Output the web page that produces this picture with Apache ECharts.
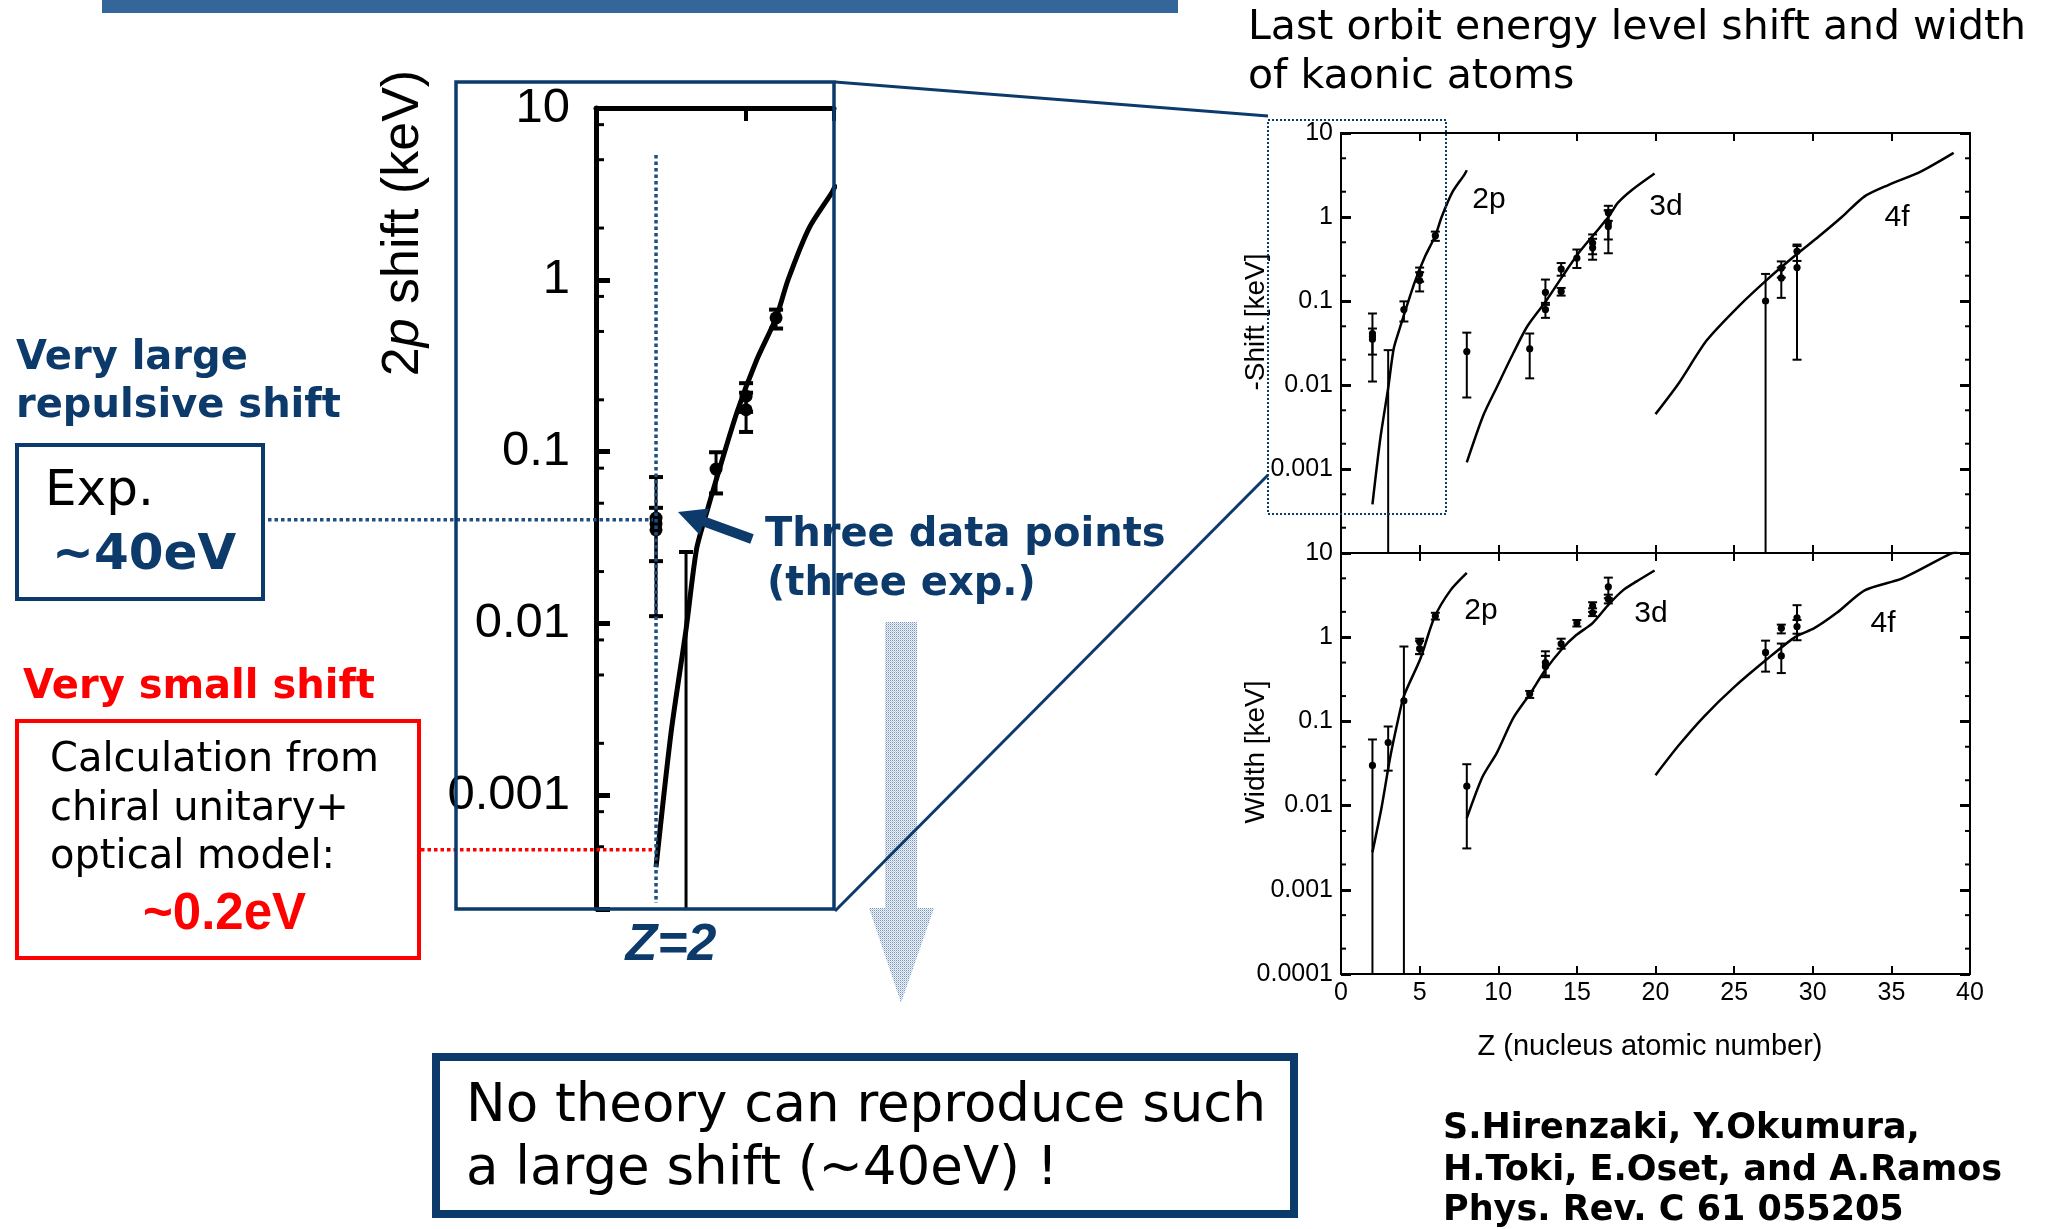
<!DOCTYPE html>
<html><head><meta charset="utf-8">
<script src="https://cdn.jsdelivr.net/npm/echarts@6/dist/echarts.min.js"></script>
<style>html,body{margin:0;padding:0;background:#fff}#c{width:2046px;height:1229px}</style>
</head><body><div id="c"></div>
<script>
// ================= DATA =================
// theory curves: [Z, keV]
const shiftCurve2p = [[2.0,0.00038],[2.5,0.0023],[3.0,0.0092],[3.35,0.027],[3.7,0.045],[4.0,0.068],[4.7,0.17],[5.35,0.34],[6.0,0.6],[6.4,1.0],[7.1,2.0],[7.85,3.2],[8.0,3.6]];
const shiftCurve3d = [[8,0.0012],[9.04,0.0043],[9.93,0.0096],[10.96,0.024],[11.85,0.05],[13.04,0.1],[14.07,0.195],[15.1,0.37],[16.15,0.64],[17.04,1.02],[17.6,1.47],[18.5,2.1],[19.94,3.3]];
const shiftCurve4f = [[20,0.0045],[21.48,0.0105],[23.26,0.034],[25.3,0.087],[27.1,0.18],[28.9,0.35],[30.4,0.59],[31.85,1.0],[33.3,1.76],[34.8,2.4],[36.9,3.5],[38.96,5.8]];
const widthCurve2p = [[2,0.0028],[2.58,0.0095],[3.1,0.035],[3.56,0.091],[4,0.2],[5.04,0.55],[5.93,1.7],[6.96,3.6],[8,5.8]];
const widthCurve3d = [[8,0.0071],[9,0.022],[9.9,0.042],[10.96,0.11],[12,0.21],[13,0.41],[14.07,0.73],[14.96,1.06],[16,1.47],[17.04,2.47],[17.93,3.6],[18.8,4.6],[19.94,6.2]];
const widthCurve4f = [[20,0.023],[21.48,0.052],[23.1,0.115],[25,0.255],[27.1,0.55],[28.9,1.01],[30.1,1.28],[31.55,1.96],[33.3,3.6],[35.7,5.0],[38.7,9.7],[39.2,10.5]];
// measurements: [Z, value, errLow, errHigh]  (errLow 0 = bar runs off the axis bottom, value 0 = point off scale)
const shiftExp2p = [[2,0.041,0.011,0.071],[2,0.035,0.023,0.047],[2,0.038,0.038,0.038],[3,0,0,0.026],[4,0.079,0.057,0.099],[5,0.21,0.17,0.25],[5,0.175,0.13,0.22],[6,0.6,0.52,0.67]];
const shiftExp3d = [[8,0.025,0.0071,0.042],[12,0.027,0.012,0.041],[13,0.127,0.09,0.18],[13,0.079,0.063,0.095],[14,0.24,0.2,0.283],[14,0.13,0.116,0.143],[15,0.325,0.247,0.41],[16,0.49,0.36,0.62],[16,0.43,0.31,0.55],[17,1.12,0.9,1.36],[17,0.85,0.54,1.2],[17,0.77,0.37,1.2]];
const shiftExp4f = [[27,0.1,0,0.21],[28,0.247,0.19,0.296],[28,0.188,0.109,0.25],[29,0.39,0.3,0.47],[29,0.25,0.02,0.45]];
const widthExp2p = [[2,0.03,0,0.061],[3,0.056,0.026,0.087],[4,0.176,0,0.775],[5,0.88,0.63,0.96],[5,0.73,0.63,0.9],[6,1.78,1.62,1.95]];
const widthExp3d = [[8,0.017,0.0031,0.031],[12,0.213,0.19,0.23],[13,0.5,0.335,0.68],[13,0.45,0.35,0.6],[14,0.836,0.73,0.96],[15,1.47,1.34,1.6],[16,2.36,2.0,2.6],[16,1.95,1.78,2.2],[17,3.96,2.9,5.1],[17,2.85,2.52,3.2]];
const widthExp4f = [[27,0.66,0.39,0.91],[28,1.28,1.11,1.41],[28,0.6,0.375,0.84],[29,1.7,0.92,2.4],[29,1.34,1.1,1.6]];
// axis ranges / ticks
const zRange = [0, 40];
const zTickStep = 5;
const keVRange = [0.0001, 10];
const zoomZRange = [0, 7.93];
const zoomKeVRange = [0.000217, 10];
const minorMultRight = [2, 5];
const minorMultLeft = [2, 5, 8];
// annotation levels
const expShiftZ2 = 0.04;      // ~40 eV
const calcLevel = 0.00048;    // level of the red dotted line

// ================= STYLE =================
const BLUE = '#0c3a6b';
const RED = '#ff0000';
const F_ARIAL = '"Liberation Sans", Arial, sans-serif';
const F_VER = '"DejaVu Sans", Verdana, sans-serif';

function decadeOf(v){ const l = Math.log10(v); const r = Math.round(l); return Math.abs(l - r) > 1e-6 ? null : r; }
function decadeText(r){ return r >= 0 ? String(Math.pow(10, r)) : '0.' + '0'.repeat(-r - 1) + '1'; }
function fmt(hideBelow){ return function(v){ const r = decadeOf(v); if (r === null || r < hideBelow) return ''; return decadeText(r); }; }

function minorValues(range, mults){
  const out = [];
  const e0 = Math.floor(Math.log10(range[0])), e1 = Math.ceil(Math.log10(range[1]));
  for (let e = e0; e < e1; e++) for (const m of mults) { const v = m * Math.pow(10, e); if (v > range[0] && v < range[1]) out.push([0, v]); }
  return out;
}

function errRender(o){
  return function(params, api){
    const cs = params.coordSys;
    const z = api.value(0), v = api.value(1), lo = api.value(2), hi = api.value(3);
    const pHi = api.coord([z, hi]);
    const x = pHi[0];
    const yLo = lo > 0 ? api.coord([z, lo])[1] : cs.y + cs.height;
    const ch = [];
    if (hi > lo) {
      ch.push({type:'line', shape:{x1:x, y1:pHi[1], x2:x, y2:yLo}, style:{stroke:'#000', lineWidth:o.lw}});
      ch.push({type:'line', shape:{x1:x-o.cap, y1:pHi[1], x2:x+o.cap, y2:pHi[1]}, style:{stroke:'#000', lineWidth:o.capW}});
      if (lo > 0) ch.push({type:'line', shape:{x1:x-o.cap, y1:yLo, x2:x+o.cap, y2:yLo}, style:{stroke:'#000', lineWidth:o.capW}});
    }
    if (v > 0) { const p = api.coord([z, v]); ch.push({type:'circle', shape:{cx:p[0], cy:p[1], r:o.r}, style:{fill:'#000'}}); }
    return {type:'group', children: ch};
  };
}
function minorRender(len, both, lw){
  return function(params, api){
    const cs = params.coordSys;
    const y = api.coord([0, api.value(1)])[1];
    const ch = [{type:'line', shape:{x1:cs.x, y1:y, x2:cs.x+len, y2:y}, style:{stroke:'#000', lineWidth:lw}}];
    if (both) ch.push({type:'line', shape:{x1:cs.x+cs.width-len, y1:y, x2:cs.x+cs.width, y2:y}, style:{stroke:'#000', lineWidth:lw}});
    return {type:'group', children: ch};
  };
}

function xAx(grid, range, pos, lw, tl, labels){
  return {gridIndex:grid, type:'value', min:range[0], max:range[1], interval:zTickStep, position:pos,
    axisLine:{show:true, onZero:false, lineStyle:{color:'#000', width:lw}},
    axisTick:{show:true, inside:true, length:tl, lineStyle:{color:'#000', width:Math.max(2, lw-1)}},
    axisLabel:{show:!!labels, color:'#000', fontSize:25, fontFamily:F_ARIAL, margin:7},
    splitLine:{show:false}};
}
function yAx(grid, range, pos, lw, tl, tw, label){
  return {gridIndex:grid, type:'log', logBase:10, min:range[0], max:range[1], position:pos,
    axisLine:{show:true, onZero:false, lineStyle:{color:'#000', width:lw}},
    axisTick:{show:true, inside:true, length:tl, lineStyle:{color:'#000', width:tw}},
    axisLabel: label ? Object.assign({show:true, color:'#000'}, label) : {show:false},
    splitLine:{show:false}, minorTick:{show:false}};
}
function lineS(xi, yi, data, w){
  return {type:'line', xAxisIndex:xi, yAxisIndex:yi, data, showSymbol:false, symbol:'none', smooth:0.25, clip:true,
    lineStyle:{color:'#000', width:w}, silent:true, z:3};
}
function errS(xi, yi, data, o){
  return {type:'custom', xAxisIndex:xi, yAxisIndex:yi, data, encode:{x:0, y:3}, clip:true, renderItem:errRender(o), silent:true, z:4};
}
function minorS(xi, yi, data, len, both, lw){
  return {type:'custom', xAxisIndex:xi, yAxisIndex:yi, data, encode:{x:0, y:1}, clip:false, renderItem:minorRender(len, both, lw), silent:true, z:5};
}

const RS = {lw:2, cap:4.5, capW:2, r:3.6};
const LS = {lw:3, cap:7, capW:4, r:6.5};

const option = {
  backgroundColor:'#fff',
  animation:false,
  grid:[
    {left:596, top:108, width:238, height:801, containLabel:false, outerBoundsMode:'none'},
    {left:1341, top:133, width:629, height:420, containLabel:false, outerBoundsMode:'none'},
    {left:1341, top:553, width:629, height:421, containLabel:false, outerBoundsMode:'none'}
  ],
  xAxis:[
    xAx(0, zoomZRange, 'top', 5, 13, false),
    xAx(1, zRange, 'bottom', 2, 8, false),
    xAx(1, zRange, 'top', 2, 8, false),
    xAx(2, zRange, 'bottom', 2, 8, true),
    xAx(2, zRange, 'top', 2, 8, false)
  ],
  yAxis:[
    yAx(0, zoomKeVRange, 'left', 5, 14, 5, {fontSize:49, fontFamily:F_ARIAL, margin:26, formatter:fmt(-99)}),
    yAx(1, keVRange, 'left', 2, 10, 3, {fontSize:25, fontFamily:F_ARIAL, margin:8, formatter:fmt(-3)}),
    yAx(1, keVRange, 'right', 2, 10, 3, null),
    yAx(2, keVRange, 'left', 2, 10, 3, {fontSize:25, fontFamily:F_ARIAL, margin:8, formatter:fmt(-99)}),
    yAx(2, keVRange, 'right', 2, 10, 3, null)
  ],
  series:[
    lineS(0, 0, shiftCurve2p, 5),
    errS(0, 0, shiftExp2p, LS),
    minorS(0, 0, minorValues(zoomKeVRange, minorMultLeft), 8, false, 3),
    lineS(1, 1, shiftCurve2p, 2.5), lineS(1, 1, shiftCurve3d, 2.5), lineS(1, 1, shiftCurve4f, 2.5),
    errS(1, 1, shiftExp2p, RS), errS(1, 1, shiftExp3d, RS), errS(1, 1, shiftExp4f, RS),
    minorS(1, 1, minorValues(keVRange, minorMultRight), 5, true, 2),
    lineS(3, 3, widthCurve2p, 2.5), lineS(3, 3, widthCurve3d, 2.5), lineS(3, 3, widthCurve4f, 2.5),
    errS(3, 3, widthExp2p, RS), errS(3, 3, widthExp3d, RS), errS(3, 3, widthExp4f, RS),
    minorS(3, 3, minorValues(keVRange, minorMultRight), 5, true, 2)
  ]
};

const chart = echarts.init(document.getElementById('c'), null, {renderer:'canvas', width:2046, height:1229});
chart.setOption(option);

// ================= ANNOTATIONS =================
function T(x, y, text, o){
  const st = {text, fill:o.color || '#000', fontSize:o.size, fontFamily:o.font || F_VER,
    fontWeight:o.weight || 'normal', fontStyle:o.style || 'normal', align:o.align || 'left', verticalAlign:'middle'};
  if (o.rich) st.rich = o.rich;
  return {type:'text', x, y, rotation:o.rot || 0, z:o.z || 60, silent:true, style:st};
}
function L(x1, y1, x2, y2, color, w, dash, z){
  return {type:'line', z:z || 70, silent:true, shape:{x1, y1, x2, y2}, style:{stroke:color, lineWidth:w, lineDash:dash || null}};
}
function R(x, y, w, h, color, lw, dash, z){
  return {type:'rect', z:z || 80, silent:true, shape:{x, y, width:w, height:h}, style:{fill:'none', stroke:color, lineWidth:lw, lineDash:dash || null}};
}
function arrowPoly(x1, y1, x2, y2, sw, hl, hw){
  const dx = x2 - x1, dy = y2 - y1, len = Math.hypot(dx, dy), ux = dx / len, uy = dy / len, nx = -uy, ny = ux;
  const bx = x2 - ux * hl, by = y2 - uy * hl;
  return [[x1 + nx*sw/2, y1 + ny*sw/2], [bx + nx*sw/2, by + ny*sw/2], [bx + nx*hw/2, by + ny*hw/2], [x2, y2],
          [bx - nx*hw/2, by - ny*hw/2], [bx - nx*sw/2, by - ny*sw/2], [x1 - nx*sw/2, y1 - ny*sw/2]];
}

const pExp = chart.convertToPixel({gridIndex:0}, [2, expShiftZ2]);
const pCalc = chart.convertToPixel({gridIndex:0}, [2, calcLevel]);

const pc = document.createElement('canvas'); pc.width = 2; pc.height = 2;
const g2 = pc.getContext('2d');
g2.fillStyle = '#eef2f8'; g2.fillRect(0, 0, 2, 2);
g2.fillStyle = '#7896bd'; g2.fillRect(0, 0, 1, 1);
g2.fillStyle = '#bccadd'; g2.fillRect(1, 1, 1, 1);

const G = [
  {type:'rect', z:10, silent:true, shape:{x:102, y:0, width:1076, height:13}, style:{fill:'#346699'}},
  T(1248, 28, 'Last orbit energy level shift and width', {size:41}),
  T(1248, 77, 'of kaonic atoms', {size:41}),
  // left texts
  T(16, 359, 'Very large', {size:40, weight:'bold', color:BLUE}),
  T(16, 407, 'repulsive shift', {size:40, weight:'bold', color:BLUE}),
  R(17, 445, 246, 154, BLUE, 4),
  T(45, 492, 'Exp.', {size:50}),
  T(52, 556, '~40eV', {size:50, weight:'bold', color:BLUE}),
  T(23, 688, 'Very small shift', {size:40, weight:'bold', color:RED}),
  R(17, 721, 402, 237, RED, 4),
  T(50, 761, 'Calculation from', {size:40}),
  T(50, 810, 'chiral unitary+', {size:40}),
  T(50, 858, 'optical model:', {size:40}),
  T(143, 915, '~0.2eV', {size:51, weight:'bold', color:RED, font:F_ARIAL}),
  // left axis title and Z=2
  T(404, 223, '2{i|p} shift (keV)', {size:52, font:F_ARIAL, align:'center', rot:Math.PI/2,
    rich:{i:{fontStyle:'italic', fontSize:52, fontFamily:F_ARIAL, fill:'#000'}}}),
  T(671, 946, 'Z=2', {size:52, font:F_ARIAL, weight:'bold', style:'italic', color:BLUE, align:'center'}),
  // dotted guide lines
  L(pExp[0], 155, pExp[0], 903, '#1f4e80', 3.5, [3.5, 3], 90),
  L(268, pExp[1], pExp[0] - 3, pExp[1], '#1f4e80', 3.5, [3.5, 3], 90),
  L(421, pCalc[1], pCalc[0] - 3, pCalc[1], RED, 3.5, [3.5, 3], 90),
  // arrow + text
  {type:'polygon', z:90, silent:true, shape:{points:arrowPoly(752, 539, 678, 512, 10, 28, 28)}, style:{fill:BLUE}},
  T(765, 536, 'Three data points', {size:40, weight:'bold', color:BLUE}),
  T(767, 585, '(three exp.)', {size:40, weight:'bold', color:BLUE}),
  // zoom box
  R(456, 82, 378, 827, BLUE, 3.5, null, 95),
  L(835, 82, 1268, 116, BLUE, 3),
  L(835, 911, 1268, 475, BLUE, 3),
  R(1268, 120, 178, 394, BLUE, 2, [2, 2]),
  // big down arrow
  {type:'polygon', z:20, silent:true, shape:{points:[[885,622],[917,622],[917,908],[934,908],[901,1003],[869,908],[885,908]]},
    style:{fill:{image:pc, repeat:'repeat'}}},
  // right panel titles
  T(1256, 322, '-Shift [keV]', {size:28, font:F_ARIAL, align:'center', rot:Math.PI/2}),
  T(1256, 752, 'Width [keV]', {size:28, font:F_ARIAL, align:'center', rot:Math.PI/2}),
  T(1650, 1047, 'Z (nucleus atomic number)', {size:29, font:F_ARIAL, align:'center'}),
  T(1489, 200, '2p', {size:30, font:F_ARIAL, align:'center'}),
  T(1666, 207, '3d', {size:30, font:F_ARIAL, align:'center'}),
  T(1897, 218, '4f', {size:30, font:F_ARIAL, align:'center'}),
  T(1481, 611, '2p', {size:30, font:F_ARIAL, align:'center'}),
  T(1651, 614, '3d', {size:30, font:F_ARIAL, align:'center'}),
  T(1883, 624, '4f', {size:30, font:F_ARIAL, align:'center'}),
  // bottom box
  R(436, 1057, 858, 157, BLUE, 8),
  T(466, 1107, 'No theory can reproduce such', {size:53}),
  T(466, 1170, 'a large shift (~40eV) !', {size:53}),
  // references
  T(1443, 1129, 'S.Hirenzaki, Y.Okumura,', {size:35, weight:'bold'}),
  T(1443, 1171, 'H.Toki, E.Oset, and A.Ramos', {size:35, weight:'bold'}),
  T(1443, 1211, 'Phys. Rev. C 61 055205', {size:35, weight:'bold'})
];
chart.setOption({graphic:{elements:G}});
</script>
</body></html>
